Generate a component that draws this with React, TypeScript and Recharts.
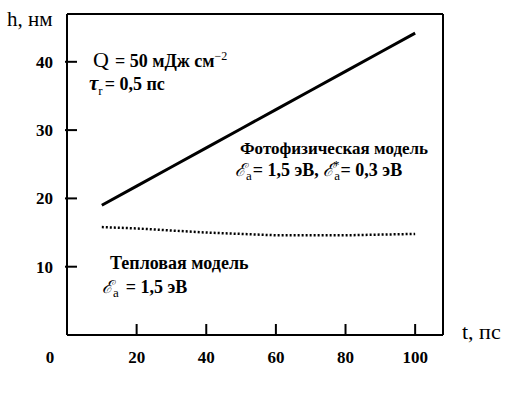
import React from "react";
import { LineChart, Line, XAxis, YAxis, ReferenceLine } from "recharts";

const tValues = [10, 20, 30, 40, 50, 60, 70, 80, 90, 100];
const photoH = [19.0, 21.8, 24.6, 27.4, 30.2, 33.0, 35.8, 38.6, 41.4, 44.2];
const thermalH = [15.8, 15.6, 15.3, 15.0, 14.8, 14.6, 14.6, 14.6, 14.7, 14.8];
const xTicks = [0, 20, 40, 60, 80, 100];
const yTicks = [10, 20, 30, 40];

const data = tValues.map((t, i) => ({ t, photo: photoH[i], thermal: thermalH[i] }));

const FONT = "Liberation Serif";
const S = { fontFamily: FONT };
const SB = { fontFamily: FONT, fontWeight: 700 } as const;

const XTick = (props: any) => {
  const { x, payload } = props;
  const base = 335;
  if (payload.value === 0) {
    return (
      <text x={x - 17} y={base + 28} textAnchor="middle" style={SB} fontSize={17} fill="#000">
        0
      </text>
    );
  }
  return (
    <g>
      <line x1={x} y1={base} x2={x} y2={base - 11} stroke="#000" strokeWidth={2} />
      <text x={x} y={base + 28} textAnchor="middle" style={SB} fontSize={17} fill="#000">
        {payload.value}
      </text>
    </g>
  );
};

const YTick = (props: any) => {
  const { y, payload } = props;
  const ax = 67;
  return (
    <g>
      <line x1={ax - 2} y1={y} x2={ax + 10} y2={y} stroke="#000" strokeWidth={2} />
      <text x={ax - 14} y={y + 6} textAnchor="end" style={SB} fontSize={17} fill="#000">
        {payload.value}
      </text>
    </g>
  );
};

export default function App() {
  return (
    <div style={{ position: "absolute", left: 0, top: 0, background: "#fff" }}>
      <LineChart
        width={523}
        height={393}
        data={data}
        margin={{ top: 14, right: 80, bottom: 28, left: 7 }}
      >
        <XAxis
          dataKey="t"
          type="number"
          domain={[0, 108]}
          ticks={xTicks}
          height={30}
          tickLine={false}
          axisLine={{ stroke: "#000", strokeWidth: 2 }}
          tick={<XTick />}
          interval={0}
        />
        <YAxis
          type="number"
          domain={[0, 47]}
          ticks={yTicks}
          width={60}
          tickLine={false}
          axisLine={{ stroke: "#000", strokeWidth: 2 }}
          tick={<YTick />}
          interval={0}
        />
        <ReferenceLine y={47} stroke="#000" strokeWidth={2} />
        <ReferenceLine x={108} stroke="#000" strokeWidth={2} />
        <Line
          dataKey="photo"
          stroke="#000"
          strokeWidth={3}
          dot={false}
          isAnimationActive={false}
        />
        <Line
          dataKey="thermal"
          stroke="#000"
          strokeWidth={2.5}
          strokeDasharray="2 2"
          dot={false}
          isAnimationActive={false}
        />
        <text x={7} y={26} style={S} fontSize={21} fill="#000">h, нм</text>
        <text x={462} y={339} style={S} fontSize={22} fill="#000">t, пс</text>
        <text x={93} y={67} style={S} fontSize={18} fill="#000">
          <tspan fontSize={22}>Q</tspan>
          <tspan dx={6} style={SB}>= 50 мДж см</tspan>
          <tspan dy={-7} fontSize={12}>−2</tspan>
        </text>
        <text x={89} y={90} style={S} fontSize={18} fill="#000">
          <tspan fontStyle="italic" fontSize={21} style={SB}>τ</tspan>
          <tspan dy={5} fontSize={13}>r</tspan>
          <tspan dy={-5} dx={2} style={SB}>= 0,5 пс</tspan>
        </text>
        <text x={240} y={154} style={SB} fontSize={17} fill="#000">
          Фотофизическая модель
        </text>
        <text x={235} y={176} style={S} fontSize={18} fill="#000">
          <tspan fontStyle="italic">ℰ</tspan>
          <tspan dy={4} fontSize={13}>a</tspan>
          <tspan dy={-4} dx={1} style={SB}>= 1,5 эВ, </tspan>
          <tspan fontStyle="italic">ℰ</tspan>
          <tspan dy={4} fontSize={13}>a</tspan>
          <tspan dy={-11} dx={-7} fontSize={13}>*</tspan>
          <tspan dy={7} dx={1} style={SB}>= 0,3 эВ</tspan>
        </text>
        <text x={110} y={269} style={SB} fontSize={18} fill="#000">
          Тепловая модель
        </text>
        <text x={102} y={293} style={S} fontSize={18} fill="#000">
          <tspan fontStyle="italic">ℰ</tspan>
          <tspan dy={4} fontSize={13}>a</tspan>
          <tspan dy={-4} dx={7} style={SB}>= 1,5 эВ</tspan>
        </text>
      </LineChart>
    </div>
  );
}
